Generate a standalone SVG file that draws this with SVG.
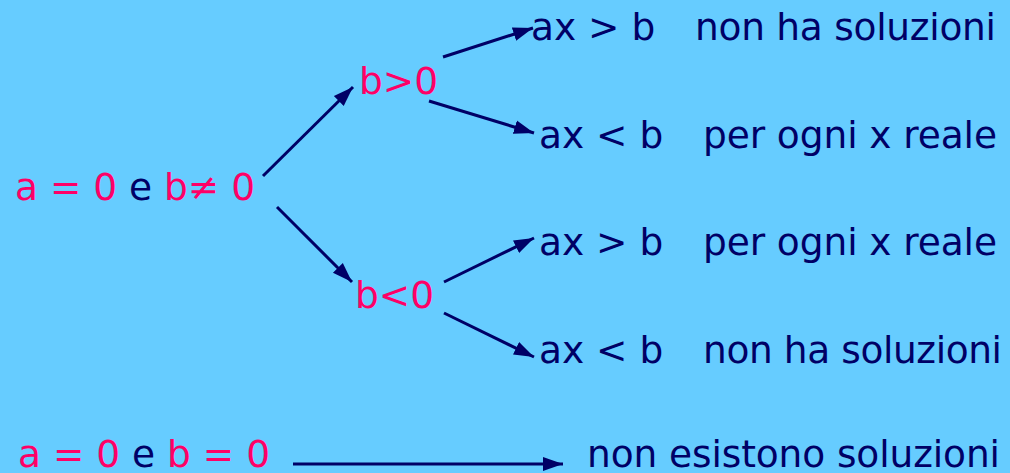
<svg xmlns="http://www.w3.org/2000/svg" width="1010" height="473" viewBox="0 0 1010 473">
<style>
text{font-family:"DejaVu Sans",Verdana,sans-serif;font-size:37.5px;fill:#000066}
.p{fill:#FF0066}
.c line{stroke:#000066;stroke-width:3}
</style>
<defs>
<marker id="ah" markerUnits="userSpaceOnUse" markerWidth="22" markerHeight="16" refX="20" refY="8" orient="auto">
<path d="M0,1 L20,8 L0,15 Z" fill="#000066"/>
</marker>
</defs>
<rect width="1010" height="473" fill="#66CCFF"/>
<g class="c" id="connectors">
<line x1="263" y1="176" x2="353" y2="87" marker-end="url(#ah)"/>
<line x1="277" y1="207" x2="352" y2="282" marker-end="url(#ah)"/>
<line x1="443" y1="57" x2="533" y2="28" marker-end="url(#ah)"/>
<line x1="429" y1="101" x2="534" y2="133" marker-end="url(#ah)"/>
<line x1="444" y1="282" x2="534" y2="238" marker-end="url(#ah)"/>
<line x1="444" y1="313" x2="534" y2="357" marker-end="url(#ah)"/>
<line x1="293" y1="464" x2="563" y2="464" marker-end="url(#ah)"/>
</g>
<g id="root"><text x="15" y="200" textLength="240"><tspan class="p">a = 0 </tspan>e<tspan class="p"> b≠ 0</tspan></text></g>
<g id="bpos"><text class="p" x="359" y="94">b&gt;0</text></g>
<g id="bneg"><text class="p" x="355" y="308">b&lt;0</text></g>
<g id="r1"><text x="531" y="40">ax &gt; b<tspan x="695" textLength="301">non ha soluzioni</tspan></text></g>
<g id="r2"><text x="539" y="148">ax &lt; b<tspan x="703" textLength="294">per ogni x reale</tspan></text></g>
<g id="r3"><text x="539" y="255">ax &gt; b<tspan x="703" textLength="294">per ogni x reale</tspan></text></g>
<g id="r4"><text x="539" y="363">ax &lt; b<tspan x="703" textLength="299">non ha soluzioni</tspan></text></g>
<g id="zero"><text x="18" y="467" textLength="252"><tspan class="p">a = 0 </tspan>e<tspan class="p"> b = 0</tspan></text></g>
<g id="none"><text x="587" y="467" textLength="413">non esistono soluzioni</text></g>
</svg>
